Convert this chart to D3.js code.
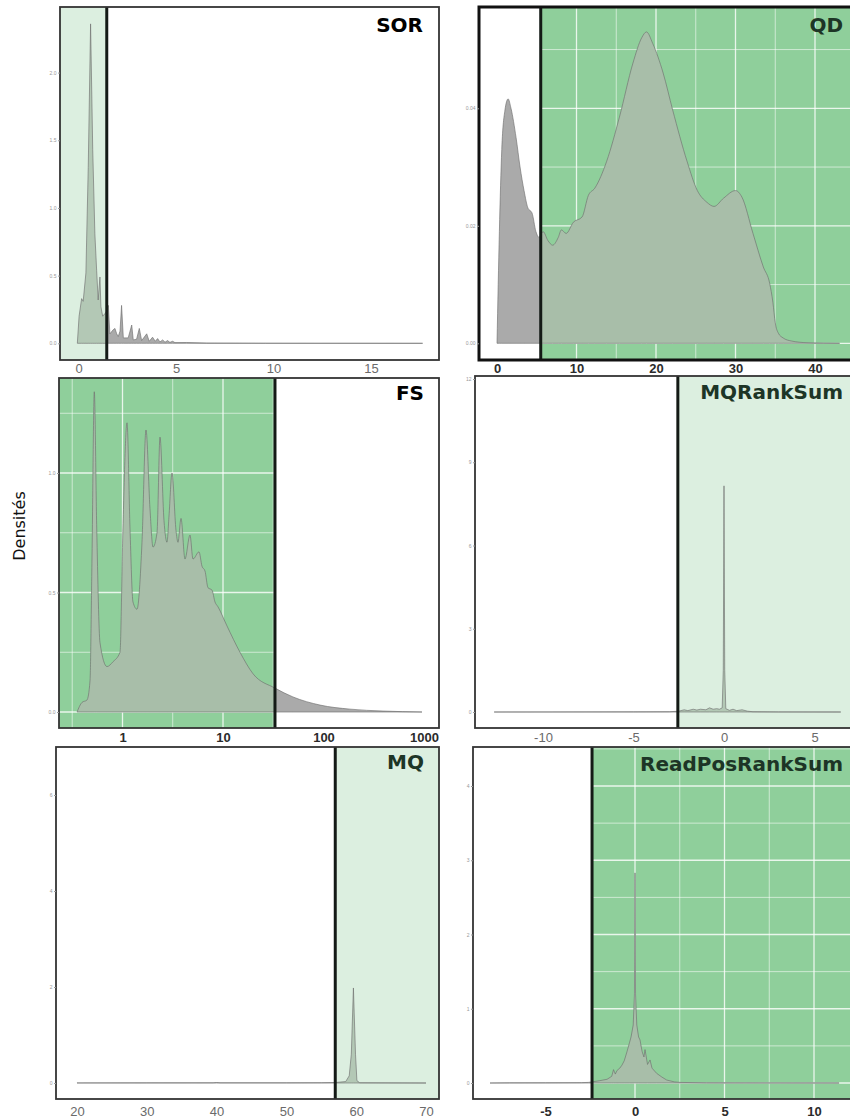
<!DOCTYPE html>
<html>
<head>
<meta charset="utf-8">
<script src="https://cdn.jsdelivr.net/npm/d3@7"></script>
<style>
  body { margin: 0; background: #fff; }
  svg { display: block; }
</style>
</head>
<body>
<div id="chart"></div>
<script>
// ---- data ----
const sorX = [-0.07, 0.02, 0.15, 0.23, 0.37, 0.49, 0.61, 0.72, 0.83, 0.92, 1.0, 1.09, 1.14, 1.23, 1.35, 1.44, 1.52, 1.6, 1.77, 1.86, 1.95, 2.03, 2.12, 2.2, 2.29, 2.54, 2.72, 2.8, 2.97, 3.11, 3.23, 3.49, 3.62, 3.79, 3.93, 4.05, 4.17, 4.31, 4.43, 4.56, 4.68, 4.82, 4.94, 5.54, 6.57, 9.6, 17.65];
const sorY = [0, 0.2, 0.33, 0.31, 0.52, 1.3, 2.36, 1.43, 0.81, 0.54, 0.32, 0.49, 0.27, 0.2, 0.22, 0.24, 0.28, 0.07, 0.1, 0.11, 0.07, 0.05, 0.09, 0.28, 0.04, 0.04, 0.135, 0.025, 0.03, 0.11, 0.02, 0.07, 0.015, 0.045, 0.015, 0.035, 0.01, 0.025, 0.008, 0.02, 0.007, 0.015, 0.005, 0.006, 0.002, 0.0005, 0];

const qdX = [0, 0.3, 0.6, 1.0, 1.4, 1.76, 2.4, 2.9, 3.4, 3.9, 4.4, 4.9, 5.3, 5.5, 5.8, 6.4, 7.0, 7.7, 8.1, 8.7, 9.6, 10.7, 11.5, 12.3, 13.8, 15.4, 17.1, 18.2, 18.8, 19.6, 20.9, 22.1, 23.9, 25.2, 26.4, 27.3, 28.5, 30.0, 30.8, 32.2, 33.5, 34.3, 34.7, 35.0, 35.4, 36, 37, 39, 43.1];
const qdY = [0, 0.019, 0.033, 0.0397, 0.0416, 0.040, 0.035, 0.030, 0.026, 0.023, 0.0222, 0.019, 0.018, 0.0185, 0.019, 0.0175, 0.0167, 0.018, 0.0193, 0.0187, 0.0206, 0.0215, 0.0252, 0.0264, 0.031, 0.0385, 0.0477, 0.052, 0.053, 0.051, 0.046, 0.0397, 0.031, 0.026, 0.024, 0.0233, 0.0247, 0.026, 0.0249, 0.0187, 0.013, 0.0102, 0.007, 0.0035, 0.0017, 0.0009, 0.0004, 0.0001, 0];

const fsX = [0.353, 0.395, 0.443, 0.475, 0.497, 0.524, 0.554, 0.597, 0.701, 0.804, 0.944, 1.01, 1.109, 1.187, 1.272, 1.394, 1.563, 1.713, 1.877, 2.012, 2.205, 2.361, 2.588, 2.773, 2.902, 3.109, 3.406, 3.566, 3.821, 4.187, 4.694, 5.029, 5.769, 6.18, 6.62, 7.09, 7.77, 8.33, 8.92, 10.96, 14.76, 19.89, 32.9, 49.7, 92.3, 183.5, 390.8, 955];
const fsY = [0, 0.04, 0.05, 0.13, 0.64, 1.34, 0.77, 0.29, 0.19, 0.21, 0.25, 0.77, 1.21, 0.77, 0.46, 0.43, 0.71, 1.18, 0.85, 0.69, 0.75, 1.15, 0.80, 0.71, 0.82, 1.00, 0.76, 0.71, 0.81, 0.64, 0.74, 0.64, 0.67, 0.61, 0.59, 0.52, 0.51, 0.46, 0.44, 0.36, 0.25, 0.16, 0.10, 0.063, 0.029, 0.012, 0.004, 0];

const mqrX = [-12.7, -10, -5, -3, -2.5, -2.2, -2.0, -1.7, -1.5, -1.3, -1.0, -0.8, -0.6, -0.4, -0.25, -0.1, -0.04, 0, 0.04, 0.1, 0.3, 0.5, 0.7, 1.0, 1.3, 1.6, 3, 6.45];
const mqrY = [0, 0.002, 0.005, 0.01, 0.03, 0.08, 0.05, 0.1, 0.07, 0.1, 0.08, 0.15, 0.1, 0.12, 0.1, 0.15, 1.5, 8.15, 1.5, 0.12, 0.06, 0.1, 0.05, 0.08, 0.03, 0.01, 0.003, 0];

const mqX = [20, 30, 39.5, 40, 40.5, 50, 55, 57, 58.5, 59, 59.3, 59.6, 59.9, 60.1, 60.5, 70];
const mqY = [0.002, 0.003, 0.004, 0.01, 0.004, 0.004, 0.006, 0.01, 0.03, 0.15, 0.6, 1.98, 0.6, 0.05, 0.005, 0];

const rprX = [-8.1, -7, -5, -3, -2.6, -2.4, -2, -1.56, -1.3, -1.2, -1.1, -1.0, -0.85, -0.73, -0.6, -0.45, -0.3, -0.22, -0.1, -0.03, 0, 0.03, 0.1, 0.2, 0.28, 0.4, 0.5, 0.56, 0.7, 0.84, 0.95, 1.21, 1.5, 1.77, 2.2, 2.5, 4, 11.4];
const rprY = [0, 0.002, 0.003, 0.005, 0.008, 0.015, 0.03, 0.05, 0.09, 0.18, 0.12, 0.17, 0.2, 0.24, 0.3, 0.42, 0.55, 0.62, 0.78, 1.2, 2.83, 1.2, 0.78, 0.62, 0.58, 0.42, 0.35, 0.45, 0.25, 0.31, 0.2, 0.13, 0.08, 0.04, 0.015, 0.008, 0.002, 0];

// thresholds (vertical black lines)
const thresholds = { SOR: 1.44, QD: 5.5, FS: 32.9, MQRankSum: -2.55, MQ: 57.0, ReadPosRankSum: -2.4 };

// tick labels
const sorXTicks = [0, 5, 10, 15], sorYTicks = [0, 0.5, 1, 1.5, 2];
const qdXTicks = [0, 10, 20, 30, 40], qdYTicks = [0, 0.02, 0.04];
const fsXTicks = [1, 10, 100, 1000], fsYTicks = [0, 0.5, 1];
const mqrXTicks = [-10, -5, 0, 5], mqrYTicks = [0, 3, 6, 9, 12];
const mqXTicks = [20, 30, 40, 50, 60, 70], mqYTicks = [0, 2, 4, 6];
const rprXTicks = [-5, 0, 5, 10], rprYTicks = [0, 1, 2, 3, 4];

// ---- layout ----
const width = 850, height = 1119;
const lightGreen = "#dcefe0", midGreen = "#8fcf9b";
const darkTitle = "#1d3526";

const panels = [
  { name: "SOR", xs: sorX, ys: sorY, box: [60, 7, 439, 360], xDomain: [0, 15], xRange: [78.7, 371],
    yDomain: [0, 2], yRange: [343.3, 72.6], shade: "left", tone: "light", xTicks: sorXTicks, yTicks: sorYTicks,
    yFmt: d3.format(".1f"), titleColor: "#000", titleX: 423, titleY: 32, bold: false, labelBase: 373, curve: d3.curveLinear },
  { name: "QD", xs: qdX, ys: qdY, box: [479, 7, 862, 360], xDomain: [0, 40], xRange: [497, 815],
    yDomain: [0, 0.04], yRange: [343.3, 108.3], shade: "right", tone: "mid", xTicks: qdXTicks, yTicks: qdYTicks,
    yFmt: d3.format(".2f"), titleColor: darkTitle, titleX: 843, titleY: 32, bold: true, labelBase: 373,
    curve: d3.curveMonotoneX, border: "#111", borderW: 3,
    gridX: [0, 5, 10, 15, 20, 25, 30, 35, 40], gridY: [0, 0.01, 0.02, 0.03, 0.04, 0.05] },
  { name: "FS", xs: fsX, ys: fsY, box: [59, 378, 439, 728], log: true, xDomain: [1, 1000], xRange: [122.5, 424],
    yDomain: [0, 1], yRange: [712, 473], shade: "left", tone: "mid", xTicks: fsXTicks, yTicks: fsYTicks,
    yFmt: d3.format(".1f"), titleColor: "#000", titleX: 424, titleY: 400, bold: true, labelBase: 742,
    curve: d3.curveMonotoneX,
    gridX: [0.316, 1, 3.16, 10, 31.6, 100, 316, 1000], gridY: [0, 0.25, 0.5, 0.75, 1, 1.25] },
  { name: "MQRankSum", xs: mqrX, ys: mqrY, box: [475, 376, 862, 728], xDomain: [-10, 5], xRange: [543, 814.5],
    yDomain: [0, 12], yRange: [712, 379], shade: "right", tone: "light", xTicks: mqrXTicks, yTicks: mqrYTicks,
    yFmt: d3.format("d"), titleColor: darkTitle, titleX: 843, titleY: 399, bold: false, labelBase: 742,
    curve: d3.curveLinear },
  { name: "MQ", xs: mqX, ys: mqY, box: [56, 747, 439, 1099], xDomain: [20, 70], xRange: [77, 426],
    yDomain: [0, 6], yRange: [1083, 795], shade: "right", tone: "light", xTicks: mqXTicks, yTicks: mqYTicks,
    yFmt: d3.format("d"), titleColor: darkTitle, titleX: 424, titleY: 769, bold: false, labelBase: 1116,
    curve: d3.curveLinear },
  { name: "ReadPosRankSum", xs: rprX, ys: rprY, box: [473, 747, 862, 1099], xDomain: [-5, 10], xRange: [545.5, 814],
    yDomain: [0, 4], yRange: [1083, 786], shade: "right", tone: "mid", xTicks: rprXTicks, yTicks: rprYTicks,
    yFmt: d3.format("d"), titleColor: darkTitle, titleX: 843, titleY: 771, bold: true, labelBase: 1116,
    curve: d3.curveLinear,
    gridX: [-7.5, -5, -2.5, 0, 2.5, 5, 7.5, 10], gridY: [0, 0.5, 1, 1.5, 2, 2.5, 3, 3.5, 4, 4.5] }
];

const svg = d3.select("#chart")
  .append("svg")
  .attr("width", width)
  .attr("height", height);

svg.append("rect").attr("width", width).attr("height", height).attr("fill", "#fff");
const defs = svg.append("defs");

panels.forEach((p, i) => {
  const [x0, y0, x1, y1] = p.box;
  const x = (p.log ? d3.scaleLog() : d3.scaleLinear()).domain(p.xDomain).range(p.xRange);
  const y = d3.scaleLinear().domain(p.yDomain).range(p.yRange);
  const tx = x(thresholds[p.name]);
  const shade = p.shade === "left" ? [x0, tx] : [tx, x1];
  const plain = p.shade === "left" ? [tx, x1] : [x0, tx];
  const shadeCol = p.tone === "mid" ? midGreen : lightGreen;
  const fillOnShade = p.tone === "mid" ? "#a8bea9" : "#b3c8b5";

  const mkClip = (id, a, b) => defs.append("clipPath").attr("id", id)
    .append("rect").attr("x", a).attr("y", y0).attr("width", b - a).attr("height", y1 - y0);
  mkClip(`box${i}`, x0, x1);
  mkClip(`shade${i}`, shade[0], shade[1]);
  mkClip(`plain${i}`, plain[0], plain[1]);

  const g = svg.append("g");
  const inner = g.append("g").attr("clip-path", `url(#box${i})`);

  inner.append("rect").attr("x", x0).attr("y", y0).attr("width", x1 - x0).attr("height", y1 - y0).attr("fill", "#fff");
  inner.append("rect").attr("x", shade[0]).attr("y", y0).attr("width", shade[1] - shade[0]).attr("height", y1 - y0)
    .attr("fill", shadeCol);

  // white grid (only visible on the darker green)
  if (p.gridX) {
    const majorX = new Set(p.xTicks);
    inner.selectAll(".gx").data(p.gridX).enter().append("line")
      .attr("x1", d => x(d)).attr("x2", d => x(d)).attr("y1", y0).attr("y2", y1)
      .attr("stroke", "#fff").attr("stroke-opacity", 0.8)
      .attr("stroke-width", d => majorX.has(d) ? 1.3 : 0.7);
    const majorY = new Set(p.yTicks);
    inner.selectAll(".gy").data(p.gridY).enter().append("line")
      .attr("x1", x0).attr("x2", x1).attr("y1", d => y(d)).attr("y2", d => y(d))
      .attr("stroke", "#fff").attr("stroke-opacity", 0.8)
      .attr("stroke-width", d => majorY.has(d) ? 1.3 : 0.7);
  }

  const pts = p.xs.map((v, k) => [v, p.ys[k]]);
  const area = d3.area().curve(p.curve)
    .x(d => x(d[0])).y0(y(0)).y1(d => y(d[1]));

  inner.append("g").attr("clip-path", `url(#plain${i})`)
    .append("path").attr("d", area(pts)).attr("fill", "#aaaaaa");
  inner.append("g").attr("clip-path", `url(#shade${i})`)
    .append("path").attr("d", area(pts)).attr("fill", fillOnShade);
  inner.append("path").attr("d", area(pts)).attr("fill", "none")
    .attr("stroke", "#6e6e6e").attr("stroke-opacity", 0.8).attr("stroke-width", 0.8);

  // threshold line
  g.append("line").attr("x1", tx).attr("x2", tx).attr("y1", y0).attr("y2", y1)
    .attr("stroke", "#141a16").attr("stroke-width", 3);

  // panel border
  g.append("rect").attr("x", x0).attr("y", y0).attr("width", x1 - x0).attr("height", y1 - y0)
    .attr("fill", "none").attr("stroke", p.border || "#333").attr("stroke-width", p.borderW || 1.8);

  // title
  g.append("text").attr("x", p.titleX).attr("y", p.titleY)
    .attr("text-anchor", "end")
    .style("font-family", "DejaVu Sans, sans-serif").style("font-weight", "bold").style("font-size", "20px")
    .attr("fill", p.titleColor).text(p.name);

  // y axis: tiny labels
  const yAxis = g.append("g").attr("transform", `translate(${x0},0)`)
    .call(d3.axisLeft(y).tickValues(p.yTicks).tickFormat(p.yFmt).tickSize(2).tickPadding(1.5));
  yAxis.select(".domain").remove();
  yAxis.selectAll("line").attr("stroke", "#999");
  yAxis.selectAll("text").attr("fill", "#999").style("font-size", "5px")
    .style("font-family", "Liberation Sans, Arial, sans-serif");

  // x axis labels
  const fontPx = 13;
  const xAxis = g.append("g").attr("transform", `translate(0,${y1})`)
    .call(d3.axisBottom(x).tickValues(p.xTicks).tickFormat(d => String(d)).tickSize(0)
      .tickPadding(p.labelBase - y1 - 0.71 * fontPx));
  xAxis.select(".domain").remove();
  xAxis.selectAll("text")
    .attr("fill", p.bold ? "#2b2b2b" : "#6a6a6a")
    .style("font-size", fontPx + "px")
    .style("font-weight", p.bold ? "bold" : "normal")
    .style("font-family", "Liberation Sans, Arial, sans-serif");
});

// shared y label
svg.append("text")
  .attr("transform", "translate(25,526) rotate(-90)")
  .attr("text-anchor", "middle")
  .style("font-family", "DejaVu Sans, sans-serif")
  .style("font-size", "16px")
  .attr("fill", "#111")
  .text("Densités");
</script>
</body>
</html>
